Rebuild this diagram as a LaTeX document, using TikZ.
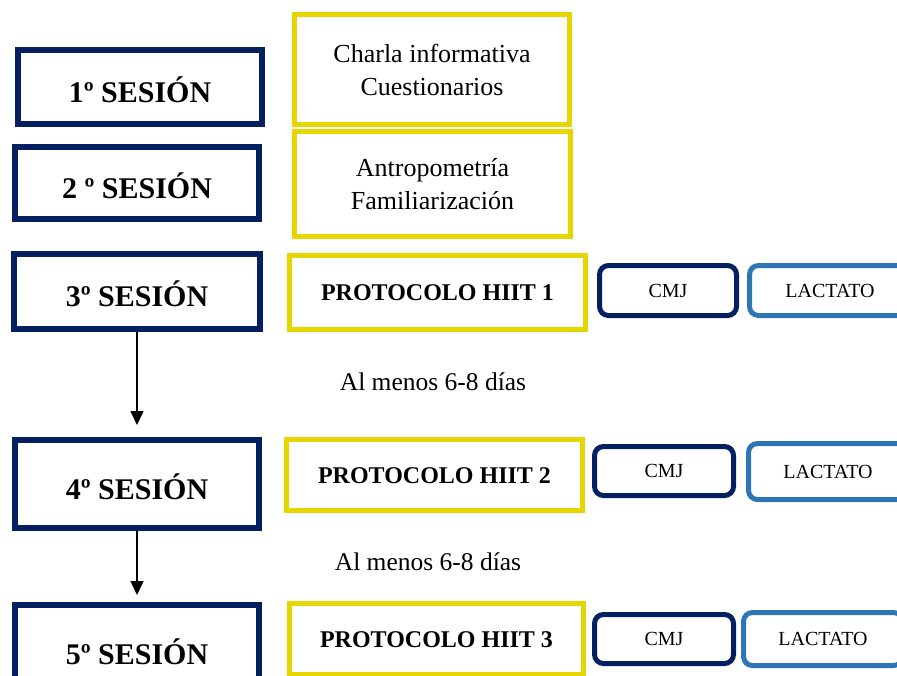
\documentclass[tikz,border=0pt]{standalone}
\usepackage{fontspec}
\setmainfont{Liberation Serif}
\usetikzlibrary{arrows.meta}

\definecolor{navyBox}{RGB}{4,32,96}
\definecolor{yellowBox}{RGB}{230,214,0}
\definecolor{blueBox}{RGB}{46,117,182}

\begin{document}
\begin{tikzpicture}[x=1pt, y=-1pt]
               \tikzstyle{mySes}=[rectangle, draw=navyBox, line width=6pt, minimum width=244pt,
                        font=\fontsize{30}{32}\selectfont\bfseries, text height=30pt, text depth=0pt]
               \tikzstyle{myAct}=[rectangle, draw=yellowBox, line width=5pt, align=center,
                        font=\fontsize{26}{33}\selectfont]
               \tikzstyle{myHiit}=[myAct, font=\fontsize{24}{26}\selectfont\bfseries,
                        text height=16pt, text depth=0pt]
               \tikzstyle{myCmj}=[rectangle, rounded corners=9pt, draw=navyBox, line width=5pt,
                        font=\fontsize{20}{22}\selectfont]
               \tikzstyle{myLac}=[myCmj, draw=blueBox]
               \tikzstyle{myGap}=[font=\fontsize{25.5}{27}\selectfont]

               \useasboundingbox (0,0) rectangle (897,675);

               % sesiones
               \node[mySes, minimum height=74pt] (s1) at (140,87) {1º SESIÓN};
               \node[mySes, minimum height=72pt] (s2) at (137,183) {2 º SESIÓN};
               \node[mySes, minimum height=75pt, minimum width=246pt] (s3) at (137,291.5) {3º SESIÓN};
               \node[mySes, minimum height=88pt] (s4) at (137,484) {4º SESIÓN};
               \node[mySes, minimum height=88pt] (s5) at (137,649) {5º SESIÓN};

               % actividades
               \node[myAct, minimum width=275pt, minimum height=110pt] (a1) at (432,69.5)
                        {Charla informativa\\Cuestionarios};
               \node[myAct, minimum width=276pt, minimum height=105pt] (a2) at (432.5,184)
                        {Antropometría\\Familiarización};
               \node[myHiit, minimum width=296pt, minimum height=74pt] (h1) at (437.5,292.5) {PROTOCOLO HIIT 1};
               \node[myHiit, minimum width=296pt, minimum height=71pt] (h2) at (434.5,475) {PROTOCOLO HIIT 2};
               \node[myHiit, minimum width=294pt, minimum height=71pt] (h3) at (436.5,639) {PROTOCOLO HIIT 3};

               % mediciones
               \node[myCmj, minimum width=137pt, minimum height=50pt] (c1) at (668,290.5) {CMJ};
               \node[myCmj, minimum width=139pt, minimum height=49pt] (c2) at (664,471) {CMJ};
               \node[myCmj, minimum width=139pt, minimum height=49pt] (c3) at (664,639) {CMJ};
               \node[myLac, minimum width=161pt, minimum height=50pt] (l1) at (830,290.5) {LACTATO};
               \node[myLac, minimum width=159pt, minimum height=56pt] (l2) at (828,471.5) {LACTATO};
               \node[myLac, minimum width=159pt, minimum height=53pt] (l3) at (823,639) {LACTATO};

               % descanso
               \node[myGap] (d1) at (433,382) {Al menos 6-8 días};
               \node[myGap] (d2) at (428,562) {Al menos 6-8 días};

               \draw[line width=1.5pt, -{Triangle[length=14pt, width=13pt]}, shorten >=12pt]
                        (s3.south) -- (s4.north);
               \draw[line width=1.5pt, -{Triangle[length=14pt, width=13pt]}, shorten >=7pt]
                        (s4.south) -- (s5.north);
\end{tikzpicture}
\end{document}
